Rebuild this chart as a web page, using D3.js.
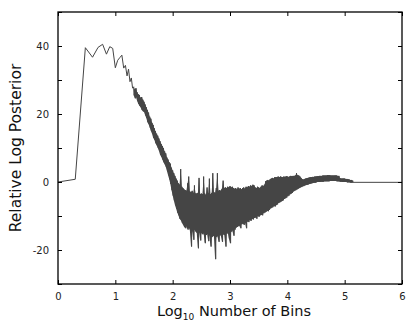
<!DOCTYPE html>
<html><head><meta charset="utf-8">
<script src="https://cdn.jsdelivr.net/npm/d3@7"></script>
<style>
html,body{margin:0;padding:0;background:#fff;}
svg{display:block;font-family:"DejaVu Sans",Verdana,sans-serif;}
</style></head>
<body>
<svg id="chart" width="416" height="328"></svg>
<script>
// ---- data ----
const xTicks = [0, 1, 2, 3, 4, 5, 6];
const yTicks = [-30, -20, -10, 0, 10, 20, 30, 40, 50];
const yLabels = [-20, 0, 20, 40];

// individual posteriors for small numbers of bins M = 1..20
const earlyM = [1, 2, 3, 4, 5, 6, 7, 8, 9, 10, 11, 12, 13, 14, 15, 16, 17, 18, 19, 20];
const earlyY = [0, 0.8, 39.5, 36.7, 39.6, 40.5, 37.6, 39.8, 39.3, 33.6, 35.8, 36.6, 37.3, 33.5, 34.3, 31.2, 33.2, 29.5, 30.6, 27.6];

// dense region: upper / lower extent of the fluctuating curve, log10(M) from 1.32 in steps of 0.02
const bandStart = 1.32, bandStep = 0.02;
const bandHi = [
 28.0, 27.2, 27.6, 26.4, 25.8,  25.6, 24.8, 25.0, 24.2, 23.6,
 22.8, 22.0, 21.2, 20.4, 19.2,  18.6, 17.4, 16.8, 15.8, 15.0,
 14.2, 13.6, 12.8, 12.0, 11.2,  10.6, 10.0, 9.0, 8.4, 7.2,
 6.6, 5.8, 5.4, 4.2, 3.4,       2.6, 1.8, 1.0, 0.4, -0.4,
 -0.8, 3.8, -1.4, -1.8, -2.2,   -2.4, -2.6, -0.4, 1.6, -2.8,
 -3.0, -2.6, -3.2, -1.0, -3.4,  -3.4, -3.2, 1.2, -3.6, -3.4,
 -3.6, 1.6, -3.4, -3.8, -1.6,   -3.4, 1.0, -3.6, -3.2, 2.6,
 -3.0, -3.2, -1.8, 2.6, -2.6,   -2.4, -2.6, -2.0, 0.4, -1.8,
 -1.6, -1.8, -1.4, -1.6, -1.2,  -1.6, -1.4, -1.8, -2.0, -1.8,
 -2.2, -1.6, -2.0, -1.8, -2.2,  -1.8, -1.6, -2.0, -1.4, -1.6,
 -1.2, -1.4, -1.0, -1.2, -0.8,  -1.0, -1.6, -1.8, -1.4, -1.6,
 -1.8, -1.4, -1.0, -1.2, -0.8,  0.2, 0.4, 0.6, 0.4, 0.8,
 1.0, 1.2, 1.0, 1.4, 1.4,       1.4, 1.6, 1.4, 1.6, 1.5,
 1.4, 1.6, 1.5, 1.7, 1.6,       1.5, 1.6, 1.8, 1.7, 1.8,
 1.8, 1.9, 2.6, 2.0, 1.9,       1.6, 1.2, 0.8, 0.7, 0.9,
 1.0, 1.1, 1.2, 1.3, 1.4,       1.4, 1.5, 1.5, 1.6, 1.6,
 1.7, 1.7, 1.8, 1.8, 1.8,       1.9, 1.9, 1.9, 1.9, 2.0,
 2.0, 2.0, 1.9, 1.9, 1.9,       1.9, 1.9, 1.9, 1.8, 1.8,
 1.1, 1.0, 1.0, 1.0, 1.0,       0.9, 0.9, 0.8, 0.7, 0.6,
 0.6, 0.4
];
const bandLo = [
 25.5, 24.6, 25.0, 23.8, 23.0,  22.4, 22.0, 21.2, 20.8, 20.6,
 19.6, 18.8, 17.6, 17.0, 16.0,  15.0, 14.2, 13.0, 12.4, 11.4,
 10.8, 10.0, 9.2, 8.0, 7.4,     6.6, 5.8, 5.2, 4.4, 3.2,
 2.0, 0.8, -0.6, -2.4, -4.0,    -5.4, -6.8, -7.8, -9.0, -9.8,
 -10.8, -11.2, -12.0, -12.6, -13.2,  -13.6, -13.0, -14.0, -13.4, -14.2,
 -19.0, -14.4, -17.0, -14.0, -14.6,  -15.0, -19.5, -14.8, -17.2, -15.0,
 -15.4, -15.0, -18.0, -15.6, -15.2,  -17.4, -15.6, -19.0, -16.2, -15.8,
 -16.0, -22.7, -16.2, -15.8, -17.6,  -15.6, -15.8, -17.6, -15.4, -15.6,
 -19.0, -15.2, -14.8, -16.6, -18.0,  -14.6, -14.2, -15.8, -14.0, -13.4,
 -13.2, -13.0, -12.8, -13.6, -12.4,  -12.2, -12.6, -11.8, -13.6, -11.6,
 -11.8, -11.2, -11.4, -10.8, -11.0,  -10.6, -10.4, -10.8, -10.0, -10.2,
 -9.8, -9.6, -9.8, -9.2, -9.0,       -8.8, -8.4, -8.6, -8.2, -7.8,
 -7.6, -7.4, -7.0, -7.2, -6.8,       -6.6, -6.2, -6.0, -5.8, -5.6,
 -5.4, -5.0, -4.8, -4.6, -4.2,       -4.0, -3.6, -3.4, -3.2, -2.8,
 -2.6, -2.4, -2.2, -2.0, -1.8,       -1.6, -1.5, -1.3, -1.2, -1.0,
 -0.9, -0.8, -0.7, -0.6, -0.5,       -0.4, -0.3, -0.2, -0.2, -0.1,
 0.0, 0.0, 0.0, 0.1, 0.1,            0.1, 0.2, 0.2, 0.2, 0.2,
 0.2, 0.3, 0.3, 0.3, 0.3,            0.3, 0.3, 0.2, 0.2, 0.2,
 0.1, 0.1, 0.0, 0.0, 0.0,            0.0, -0.1, -0.1, -0.1, -0.2,
 -0.2, -0.2
];
// flat tail to the right edge
const tailX = [5.15, 6];
const tailY = [-0.1, -0.1];

// ---- layout ----
const W = 416, H = 328;
const m = {left: 58, right: 14, top: 12, bottom: 44};
const pw = W - m.left - m.right, ph = H - m.top - m.bottom;

const x = d3.scaleLinear().domain([0, 6]).range([0, pw]);
const y = d3.scaleLinear().domain([-30, 50]).range([ph, 0]);

const svg = d3.select("#chart");
svg.append("defs").append("clipPath").attr("id", "clip")
  .append("rect").attr("width", pw).attr("height", ph);

const g = svg.append("g").attr("transform", `translate(${m.left},${m.top})`);
const plot = g.append("g").attr("clip-path", "url(#clip)");

const lineColor = "#454545";
const bandPts = bandHi.map((h, i) => ({bx: bandStart + i * bandStep, hi: h, lo: bandLo[i]}));

// solid body of the dense fluctuations
plot.append("path")
  .attr("d", d3.area().x(d => x(d.bx)).y0(d => y(d.lo)).y1(d => y(d.hi))(bandPts))
  .attr("fill", lineColor);

// the curve itself
const pts = [];
earlyM.forEach((M, i) => pts.push([Math.log10(M), earlyY[i]]));
bandPts.forEach(d => {
  pts.push([d.bx, d.hi]);
  pts.push([d.bx + bandStep / 2, d.lo]);
});
tailX.forEach((tx, i) => pts.push([tx, tailY[i]]));

plot.append("path")
  .attr("d", d3.line().x(d => x(d[0])).y(d => y(d[1]))(pts))
  .attr("fill", "none")
  .attr("stroke", lineColor)
  .attr("stroke-width", 1)
  .attr("stroke-linejoin", "round");

// axes (inward ticks on all four sides)
const tickLen = 4;
const styleAxis = sel => {
  sel.select(".domain").remove();
  sel.selectAll(".tick line").attr("stroke", "#000").attr("stroke-width", 1);
  sel.selectAll(".tick text").attr("fill", "#222").style("font-size", "10px")
     .style("font-family", '"DejaVu Sans", Verdana, sans-serif');
};
g.append("g").attr("transform", `translate(0,${ph})`)
  .call(d3.axisBottom(x).tickValues(xTicks).tickSize(-tickLen).tickPadding(9).tickFormat(d3.format("d")))
  .call(styleAxis);
g.append("g")
  .call(d3.axisTop(x).tickValues(xTicks).tickSize(-tickLen).tickFormat(""))
  .call(styleAxis);
g.append("g")
  .call(d3.axisLeft(y).tickValues(yTicks).tickSize(-tickLen).tickPadding(9)
    .tickFormat(d => yLabels.includes(d) ? d3.format("d")(d).replace("−", "-") : ""))
  .call(styleAxis);
g.append("g").attr("transform", `translate(${pw},0)`)
  .call(d3.axisRight(y).tickValues(yTicks).tickSize(-tickLen).tickFormat(""))
  .call(styleAxis);

// frame
g.append("rect").attr("width", pw).attr("height", ph)
  .attr("fill", "none").attr("stroke", "#000").attr("stroke-width", 1.3);

// axis titles
const xt = svg.append("text")
  .attr("x", m.left + pw / 2 + 4).attr("y", 316)
  .attr("text-anchor", "middle").attr("fill", "#111")
  .style("font-size", "14.5px");
xt.append("tspan").text("Log");
xt.append("tspan").attr("dy", 4).style("font-size", "9px").text("10");
xt.append("tspan").attr("dy", -4).text(" Number of Bins");

svg.append("text")
  .attr("transform", `translate(21,${m.top + ph / 2}) rotate(-90)`)
  .attr("text-anchor", "middle").attr("fill", "#111")
  .style("font-size", "15.5px")
  .text("Relative Log Posterior");
</script>
</body></html>
